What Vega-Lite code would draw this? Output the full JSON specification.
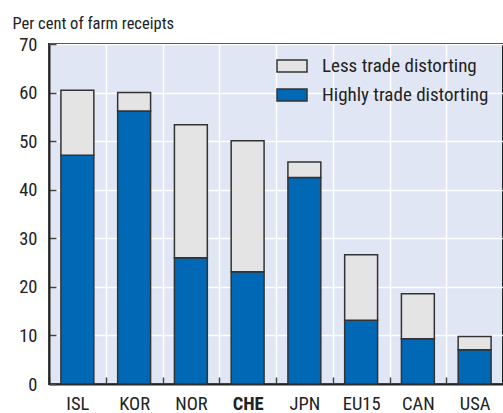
{
  "$schema": "https://vega.github.io/schema/vega-lite/v6.json",
  "width": 454,
  "height": 340,
  "autosize": "none",
  "padding": {"left": 49, "top": 44, "right": 0, "bottom": 29},
  "background": "white",
  "config": {
    "font": "Roboto Condensed, DejaVu Sans Condensed, Roboto, sans-serif",
    "view": {"fill": "#e1e6f4", "stroke": "#222222", "strokeWidth": 2},
    "axis": {"grid": true, "gridColor": "white", "gridWidth": 1.5, "gridOpacity": 1}
  },
  "data": {
    "values": [
      {"country": "ISL", "type": "Highly trade distorting", "value": 47.1},
      {"country": "ISL", "type": "Less trade distorting", "value": 13.4},
      {"country": "KOR", "type": "Highly trade distorting", "value": 56.2},
      {"country": "KOR", "type": "Less trade distorting", "value": 3.8},
      {"country": "NOR", "type": "Highly trade distorting", "value": 26.0},
      {"country": "NOR", "type": "Less trade distorting", "value": 27.4},
      {"country": "CHE", "type": "Highly trade distorting", "value": 23.1},
      {"country": "CHE", "type": "Less trade distorting", "value": 27.0},
      {"country": "JPN", "type": "Highly trade distorting", "value": 42.5},
      {"country": "JPN", "type": "Less trade distorting", "value": 3.2},
      {"country": "EU15", "type": "Highly trade distorting", "value": 13.1},
      {"country": "EU15", "type": "Less trade distorting", "value": 13.5},
      {"country": "CAN", "type": "Highly trade distorting", "value": 9.3},
      {"country": "CAN", "type": "Less trade distorting", "value": 9.3},
      {"country": "USA", "type": "Highly trade distorting", "value": 7.05},
      {"country": "USA", "type": "Less trade distorting", "value": 2.75}
    ]
  },
  "mark": {"type": "bar", "stroke": "#333333", "strokeWidth": 1.5},
  "encoding": {
    "x": {
      "field": "country",
      "type": "nominal",
      "sort": ["ISL", "KOR", "NOR", "CHE", "JPN", "EU15", "CAN", "USA"],
      "scale": {"paddingInner": 0.42, "paddingOuter": 0.21},
      "axis": {
        "title": null,
        "labelAngle": 0,
        "labelFontSize": 18.5,
        "labelColor": "#222222",
        "labelFontWeight": {"condition": {"test": "datum.value === 'CHE'", "value": "bold"}, "value": "normal"},
        "labelPadding": 17,
        "bandPosition": 0.5,
        "tickOffset": -28.375,
        "labelOffset": 28.375,
        "tickSize": -7,
        "tickColor": "#444444",
        "tickWidth": 1.5,
        "domainColor": "#222222",
        "domainWidth": 2
      }
    },
    "y": {
      "field": "value",
      "type": "quantitative",
      "stack": "zero",
      "scale": {"domain": [0, 70], "nice": false},
      "axis": {
        "values": [0, 10, 20, 30, 40, 50, 60, 70],
        "title": "Per cent of farm receipts",
        "titleAngle": 0,
        "titleX": -37,
        "titleY": -16,
        "titleAlign": "left",
        "titleBaseline": "alphabetic",
        "titleFontSize": 16.5,
        "titleFontWeight": "normal",
        "titleColor": "#222222",
        "labelFontSize": 18.5,
        "labelColor": "#222222",
        "labelPadding": 19,
        "tickSize": -7,
        "tickColor": "#444444",
        "tickWidth": 1.5,
        "domainColor": "#222222",
        "domainWidth": 2
      }
    },
    "color": {
      "field": "type",
      "type": "nominal",
      "scale": {
        "domain": ["Less trade distorting", "Highly trade distorting"],
        "range": ["#e4e4e4", "#0068b5"]
      },
      "legend": {
        "title": null,
        "orient": "none",
        "legendX": 227,
        "legendY": 6,
        "symbolType": "M-1,-0.4H1V0.4H-1Z",
        "symbolSize": 900,
        "symbolStrokeColor": "#333333",
        "symbolStrokeWidth": 1.5,
        "symbolOpacity": 1,
        "labelFontSize": 19,
        "labelColor": "#222222",
        "labelOffset": 14,
        "rowPadding": 3,
        "labelLimit": 300
      }
    },
    "order": {"field": "type", "sort": "ascending"}
  }
}
